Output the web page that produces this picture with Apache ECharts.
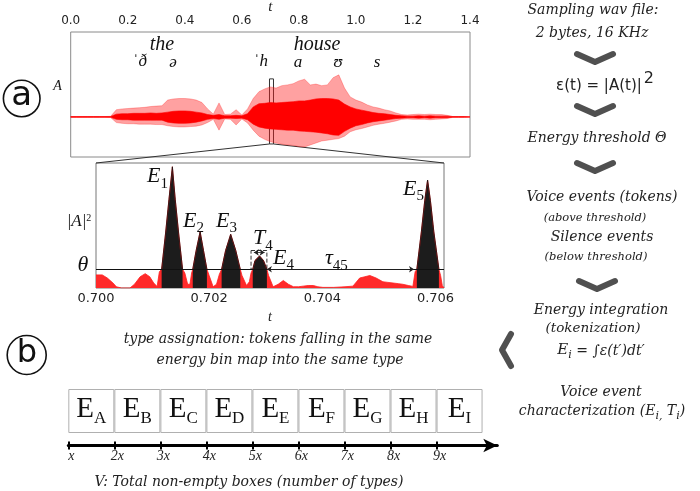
<!DOCTYPE html>
<html><head><meta charset="utf-8">
<script src="https://cdn.jsdelivr.net/npm/echarts@6/dist/echarts.min.js"></script>
<style>html,body{margin:0;padding:0;background:#fff}#c{width:700px;height:491px}</style>
</head><body><div id="c"></div>
<script>
// ---------- data: waveform envelope (top panel) ----------
const waveT = [0.00,0.02,0.04,0.06,0.08,0.10,0.12,0.14,0.16,0.18,0.20,0.22,0.24,0.26,0.28,0.30,0.32,0.34,0.36,0.38,0.40,0.42,0.44,0.46,0.48,0.50,0.52,0.54,0.56,0.58,0.60,0.62,0.64,0.66,0.68,0.70,0.72,0.74,0.76,0.78,0.80,0.82,0.84,0.86,0.88,0.90,0.92,0.94,0.96,0.98,1.00,1.02,1.04,1.06,1.08,1.10,1.12,1.14,1.16,1.18,1.20,1.22,1.24,1.26,1.28,1.30,1.32,1.34,1.36,1.38,1.40];
const lightHi = [0.01,0.01,0.01,0.01,0.01,0.01,0.01,0.015,0.18,0.20,0.21,0.22,0.23,0.24,0.26,0.27,0.28,0.42,0.45,0.46,0.46,0.45,0.42,0.36,0.20,0.07,0.35,0.06,0.07,0.18,0.05,0.20,0.46,0.63,0.70,0.75,0.72,0.78,0.80,0.83,0.90,0.94,0.80,0.82,0.78,0.80,0.98,1.05,0.72,0.50,0.42,0.37,0.30,0.25,0.22,0.18,0.15,0.10,0.06,0.05,0.06,0.07,0.06,0.07,0.06,0.06,0.04,0.01,0.01,0.01,0.01];
const lightLo = [-0.01,-0.01,-0.01,-0.01,-0.01,-0.01,-0.01,-0.015,-0.14,-0.16,-0.17,-0.17,-0.18,-0.18,-0.18,-0.19,-0.19,-0.22,-0.24,-0.25,-0.25,-0.24,-0.23,-0.20,-0.14,-0.06,-0.33,-0.05,-0.06,-0.20,-0.05,-0.15,-0.33,-0.48,-0.56,-0.62,-0.65,-0.68,-0.70,-0.71,-0.74,-0.75,-0.70,-0.65,-0.60,-0.58,-0.56,-0.54,-0.48,-0.37,-0.32,-0.29,-0.25,-0.21,-0.18,-0.16,-0.13,-0.10,-0.06,-0.05,-0.06,-0.06,-0.06,-0.07,-0.06,-0.05,-0.04,-0.01,-0.01,-0.01,-0.01];
const darkHi = [0.01,0.01,0.01,0.01,0.01,0.01,0.01,0.01,0.07,0.08,0.08,0.09,0.09,0.09,0.10,0.09,0.10,0.12,0.14,0.15,0.15,0.14,0.12,0.10,0.06,0.04,0.06,0.03,0.03,0.04,0.03,0.08,0.25,0.33,0.34,0.36,0.35,0.36,0.37,0.38,0.40,0.40,0.42,0.45,0.46,0.46,0.45,0.42,0.32,0.25,0.20,0.17,0.14,0.11,0.09,0.08,0.06,0.04,0.03,0.02,0.02,0.03,0.02,0.03,0.02,0.02,0.02,0.01,0.01,0.01,0.01];
const darkLo = [-0.01,-0.01,-0.01,-0.01,-0.01,-0.01,-0.01,-0.01,-0.06,-0.07,-0.07,-0.08,-0.08,-0.08,-0.08,-0.08,-0.08,-0.13,-0.15,-0.16,-0.16,-0.15,-0.13,-0.10,-0.06,-0.04,-0.06,-0.03,-0.03,-0.04,-0.03,-0.07,-0.18,-0.25,-0.28,-0.30,-0.31,-0.32,-0.33,-0.33,-0.35,-0.36,-0.37,-0.38,-0.40,-0.42,-0.45,-0.46,-0.36,-0.28,-0.22,-0.19,-0.15,-0.12,-0.10,-0.08,-0.06,-0.04,-0.03,-0.02,-0.02,-0.03,-0.02,-0.03,-0.02,-0.02,-0.02,-0.01,-0.01,-0.01,-0.01];
const zoomT = [0.697, 0.711];      // zoom window (time)
const zoomA = [-0.675, 0.95];      // zoom window (amplitude)

// ---------- data: energy |A|^2 (zoomed panel) ----------
const energyT = [0.70000,0.70011,0.70020,0.70030,0.70036,0.70045,0.70060,0.70068,0.70078,0.70087,0.70095,0.70102,0.70108,0.70112,0.70116,0.70123,0.70129,0.70135,0.70140,0.70146,0.70153,0.70157,0.70162,0.70166,0.70169,0.70171,0.70177,0.70184,0.70190,0.70196,0.70200,0.70207,0.70213,0.70218,0.70222,0.70229,0.70238,0.70247,0.70255,0.70258,0.70266,0.70271,0.70274,0.70277,0.70281,0.70289,0.70296,0.70302,0.70305,0.70313,0.70322,0.70331,0.70340,0.70349,0.70358,0.70366,0.70375,0.70384,0.70392,0.70401,0.70420,0.70440,0.70454,0.70466,0.70475,0.70484,0.70495,0.70507,0.70516,0.70525,0.70534,0.70542,0.70552,0.70560,0.70564,0.70567,0.70575,0.70581,0.70586,0.70591,0.70597,0.70606,0.70609,0.70612,0.70615];
const energyV = [0.105,0.105,0.08,0.04,0.01,0.0,0.0,0.03,0.09,0.115,0.09,0.04,0.012,0.13,0.15,0.44,0.71,0.97,0.71,0.44,0.15,0.12,0.03,0.03,0.12,0.15,0.30,0.45,0.30,0.15,0.10,0.01,0.03,0.11,0.15,0.30,0.43,0.30,0.15,0.10,0.02,0.05,0.12,0.15,0.22,0.256,0.22,0.15,0.10,0.01,0.03,0.06,0.03,0.01,0.01,0.015,0.02,0.02,0.01,0.005,0.005,0.01,0.015,0.08,0.09,0.10,0.08,0.05,0.045,0.04,0.035,0.03,0.02,0.013,0.13,0.15,0.45,0.70,0.864,0.70,0.45,0.15,0.10,0.02,0.0];
const threshold = 0.15;
const zoomTicks = [0.700, 0.702, 0.704, 0.706];
const T4span = [0.70274, 0.70302, 0.30];
const tau45 = [0.70302, 0.70562];

// ---------- data: energy bins (panel b) ----------
const bins = ['A','B','C','D','E','F','G','H','I'];
const binEdges = [1,2,3,4,5,6,7,8,9];
const binTicks = ['x','2x','3x','4x','5x','6x','7x','8x','9x'];

const LS = '"Liberation Serif","DejaVu Serif",serif';
const DS = '"DejaVu Serif",serif';
const SANS = '"DejaVu Sans",sans-serif';

const chart = echarts.init(document.getElementById('c'), null, {renderer:'canvas'});

function half(vals, color, lineColor) {
  return {type:'line', xAxisIndex:0, yAxisIndex:0, symbol:'none', silent:true,
    data: waveT.map((t,i)=>[t, vals[i]]), lineStyle:{width:0.6, color:lineColor},
    areaStyle:{color, opacity:1, origin:0}};
}
const waveSeries = [
  half(lightHi, 'rgba(255,30,30,0.42)', 'rgba(255,0,0,0.45)'),
  half(lightLo, 'rgba(255,30,30,0.42)', 'rgba(255,0,0,0.45)'),
  half(darkHi, '#ff0000', '#ff0000'),
  half(darkLo, '#ff0000', '#ff0000')
];
waveSeries[0].markArea = {silent:true, itemStyle:{color:'rgba(0,0,0,0)', borderColor:'#333', borderWidth:1},
  data:[[{xAxis:zoomT[0], yAxis:zoomA[1]},{xAxis:zoomT[1], yAxis:zoomA[0]}]]};

const energyRed = {
  type:'line', xAxisIndex:1, yAxisIndex:1, symbol:'none', silent:true,
  data: energyT.map((t,i)=>[t, energyV[i]]),
  lineStyle:{width:0.8, color:'#ff2020'}, areaStyle:{color:'#ff2a2a', opacity:1},
  markLine:{silent:true, symbol:'none', label:{show:false}, lineStyle:{color:'#111', width:1.2, type:'solid'},
    data:[{yAxis:threshold}]}
};
const energyBlack = {
  type:'line', xAxisIndex:1, yAxisIndex:1, symbol:'none', silent:true, connectNulls:false,
  data: energyT.map((t,i)=>[t, energyV[i] >= threshold ? energyV[i] : null]),
  lineStyle:{width:0.8, color:'#111'}, areaStyle:{color:'#1c1c1c', opacity:1},
  markLine:{silent:true, symbol:['arrow','arrow'], symbolSize:5, label:{show:false},
    lineStyle:{color:'#222', width:0.8, type:'solid'},
    data:[
      [{coord:[tau45[0], threshold]},{coord:[tau45[1], threshold]}],
      [{coord:[T4span[0]+0.00005, 0.285]},{coord:[T4span[1]-0.00004, 0.285]}]
    ]},
  markArea:{silent:true, itemStyle:{color:'rgba(0,0,0,0)', borderColor:'#333', borderWidth:1, borderType:'dashed'},
    data:[[{xAxis:T4span[0], yAxis:T4span[2]},{xAxis:T4span[1], yAxis:threshold}]]}
};

const boxSeries = {
  type:'bar', xAxisIndex:2, yAxisIndex:2, barWidth:46, silent:true,
  data: bins.map((b,i)=>[binEdges[i]+0.5, 1]),
  itemStyle:{color:'#fff', borderColor:'#b0b0b0', borderWidth:1},
  label:{show:true, position:'inside', formatter:p=>'{e|E}{s|'+bins[p.dataIndex]+'}',
    rich:{e:{fontSize:29, fontFamily:LS, color:'#111', verticalAlign:'bottom', padding:[0,0,3,0]},
          s:{fontSize:17, fontFamily:LS, color:'#111', verticalAlign:'bottom'}}}
};

const option = {
  animation:false,
  backgroundColor:'#fff',
  grid:[
    {left:70.7, top:32, width:399.3, height:125, show:true, borderColor:'#8a8a8a', borderWidth:1, backgroundColor:'rgba(0,0,0,0)', outerBoundsMode:'none'},
    {left:96, top:163, width:348, height:125, show:true, borderColor:'#777', borderWidth:1, backgroundColor:'rgba(0,0,0,0)', outerBoundsMode:'none'},
    {left:68.3, top:389, width:429, height:56.5, outerBoundsMode:'none'}
  ],
  xAxis:[
    {gridIndex:0, type:'value', position:'top', min:0, max:1.4, interval:0.2,
     axisLine:{show:false}, axisTick:{show:false}, splitLine:{show:false},
     axisLabel:{formatter:v=>v.toFixed(1), fontSize:12, color:'#222', fontFamily:SANS, margin:5},
     name:'t', nameLocation:'middle', nameGap:16,
     nameTextStyle:{fontFamily:LS, fontStyle:'italic', fontSize:15, color:'#222'}},
    {gridIndex:1, type:'value', min:0.700, max:0.70615, interval:0.002,
     axisLine:{show:false}, axisTick:{show:false}, splitLine:{show:false},
     axisLabel:{formatter:v=>v.toFixed(3), fontSize:13, color:'#222', fontFamily:SANS, margin:4,
       customValues:zoomTicks},
     name:'t', nameLocation:'middle', nameGap:22,
     nameTextStyle:{fontFamily:LS, fontStyle:'italic', fontSize:14, color:'#222'}},
    {gridIndex:2, type:'value', position:'bottom', min:1, max:10.32,
     axisLine:{show:true, onZero:false, symbol:['none','arrow'], symbolSize:[10,14], lineStyle:{color:'#000', width:3}},
     axisTick:{show:true, length:4, customValues:binEdges, lineStyle:{color:'#000', width:2}},
     splitLine:{show:false},
     axisLabel:{customValues:binEdges, formatter:v=>binTicks[v-1], fontSize:14, fontFamily:LS, fontStyle:'italic', color:'#222', margin:4, padding:[0,0,0,6]}},
    {gridIndex:2, type:'value', position:'bottom', min:1, max:10.32,
     axisLine:{show:false, onZero:false}, splitLine:{show:false}, axisLabel:{show:false},
     axisTick:{show:true, inside:true, length:4, customValues:binEdges, lineStyle:{color:'#000', width:2}}}
  ],
  yAxis:[
    {gridIndex:0, type:'value', min:-1, max:2.12, show:false, splitLine:{show:false}},
    {gridIndex:1, type:'value', min:0, max:1, show:false, splitLine:{show:false}},
    {gridIndex:2, type:'value', min:-0.284, max:1, show:false, splitLine:{show:false}}
  ],
  series: waveSeries.concat([energyRed, energyBlack, boxSeries])
};
chart.setOption(option);

// ---------- annotations ----------
function T(text, x, y, size, o) {
  o = o || {};
  return {type:'text', x, y, silent:true, z:100, style:Object.assign({
    text, fontSize:size, fontFamily:o.family||DS, fontStyle:o.fs||'italic',
    fill:o.fill||'#222', align:o.align||'center', verticalAlign:o.va||'middle'}, o.extra||{})};
}
function sub(main, s, x, y, o) {
  o = o || {};
  const ms = o.ms || 22, ss = o.ss || 15;
  return {type:'text', x, y, silent:true, z:100, style:{
    text:'{e|'+main+'}{s|'+s+'}', align:'left', verticalAlign:'middle', fill:'#111',
    rich:{e:{fontSize:ms, fontFamily:LS, fontStyle:'italic', fill:'#111', verticalAlign:'bottom', padding:[0,0,4,0]},
          s:{fontSize:ss, fontFamily:LS, fill:'#111', verticalAlign:'bottom'}}}};
}
function chev(cx, cy) {
  return {type:'polyline', silent:true, shape:{points:[[cx-18,cy-4],[cx,cy+4],[cx+18,cy-4]]},
    style:{stroke:'#505050', lineWidth:6, fill:null, lineCap:'round', lineJoin:'round'}};
}

const pA = chart.convertToPixel({xAxisIndex:0, yAxisIndex:0}, [zoomT[0], zoomA[0]]);
const pB = chart.convertToPixel({xAxisIndex:0, yAxisIndex:0}, [zoomT[1], zoomA[0]]);
const qA = chart.convertToPixel({xAxisIndex:1, yAxisIndex:1}, [0.700, 1]);
const qB = chart.convertToPixel({xAxisIndex:1, yAxisIndex:1}, [0.70615, 1]);

const graphics = [
  {type:'line', silent:true, shape:{x1:pA[0], y1:pA[1], x2:qA[0], y2:qA[1]}, style:{stroke:'#333', lineWidth:1}},
  {type:'line', silent:true, shape:{x1:pB[0], y1:pB[1], x2:qB[0], y2:qB[1]}, style:{stroke:'#333', lineWidth:1}},
  {type:'circle', silent:true, shape:{cx:21.7, cy:98.5, r:18.3}, style:{fill:null, stroke:'#111', lineWidth:1.6}},
  T('a', 21.7, 96, 34, {family:SANS, fs:'normal', fill:'#111'}),
  {type:'circle', silent:true, shape:{cx:26.7, cy:355, r:19.5}, style:{fill:null, stroke:'#111', lineWidth:1.6}},
  T('b', 27, 354, 32, {family:SANS, fs:'normal', fill:'#111'}),
  T('the', 162, 45, 20, {family:LS, fill:'#111'}),
  T('house', 317, 45, 20, {family:LS, fill:'#111'}),
  T('ˈð', 140, 62, 17, {family:LS, fill:'#111'}),
  T('ə', 173, 63, 17, {family:LS, fill:'#111'}),
  T('ˈh', 261, 62, 17, {family:LS, fill:'#111'}),
  T('a', 298, 63, 17, {family:LS, fill:'#111'}),
  T('ʊ', 338, 63, 17, {family:LS, fill:'#111'}),
  T('s', 377, 63, 17, {family:LS, fill:'#111'}),
  T('A', 57.5, 86, 14, {family:LS, fill:'#111'}),
  {type:'text', x:79, y:222, silent:true, style:{text:'{m||A|}{p|2}', align:'center', verticalAlign:'middle',
    rich:{m:{fontSize:17, fontFamily:LS, fontStyle:'italic', fill:'#111', verticalAlign:'top'},
          p:{fontSize:10, fontFamily:LS, fill:'#111', verticalAlign:'top'}}}},
  T('θ', 83, 265, 22, {family:LS, fill:'#111'}),
  sub('E','1',147,178.5),
  sub('E','2',183,223),
  sub('E','3',216,223),
  sub('T','4',253,240.5),
  sub('E','4',273,260),
  sub('τ','45',325,260.4),
  sub('E','5',403,191),
  T('Sampling wav file:', 593, 10, 14),
  T('2 bytes, 16 KHz', 592, 33, 14),
  chev(595, 58),
  {type:'text', x:605, y:82, silent:true, style:{text:'{m|ε(t) = |A(t)|}{s|2}', align:'center', verticalAlign:'middle',
    rich:{m:{fontSize:15, fontFamily:SANS, fill:'#222', verticalAlign:'bottom'},
          s:{fontSize:16, fontFamily:SANS, fill:'#222', verticalAlign:'bottom', padding:[0,0,7,2]}}}},
  chev(595, 110),
  T('Energy threshold Θ', 597, 138, 14),
  chev(595, 167),
  T('Voice events (tokens)', 602, 197, 14),
  T('(above threshold)', 595, 218, 11.5),
  T('Silence events', 602, 237, 14),
  T('(below threshold)', 596, 257, 11.5),
  chev(597, 285),
  T('Energy integration', 601, 310, 14),
  T('(tokenization)', 593, 328, 13.5),
  {type:'text', x:601, y:352, silent:true, style:{text:'{e|E}{s|i}{m| = ∫ε(t′)dt′}', align:'center', verticalAlign:'middle',
    rich:{e:{fontSize:15, fontFamily:DS, fontStyle:'italic', fill:'#222', verticalAlign:'bottom', padding:[0,0,3,0]},
          s:{fontSize:11, fontFamily:DS, fontStyle:'italic', fill:'#222', verticalAlign:'bottom'},
          m:{fontSize:14, fontFamily:DS, fontStyle:'italic', fill:'#222', verticalAlign:'bottom', padding:[0,0,3,0]}}}},
  {type:'polyline', silent:true, shape:{points:[[511,334],[502,350],[511,366]]},
    style:{stroke:'#505050', lineWidth:6, fill:null, lineCap:'round', lineJoin:'round'}},
  T('Voice event', 601, 392, 14),
  {type:'text', x:602, y:413, silent:true, style:{text:'{m|characterization (E}{s|i,}{m| T}{s|i}{m|)}', align:'center', verticalAlign:'middle',
    rich:{m:{fontSize:14, fontFamily:DS, fontStyle:'italic', fill:'#222', verticalAlign:'bottom', padding:[0,0,3,0]},
          s:{fontSize:11, fontFamily:DS, fontStyle:'italic', fill:'#222', verticalAlign:'bottom'}}}},
  T('type assignation: tokens falling in the same', 278, 339, 14),
  T('energy bin map into the same type', 280, 360, 14),
  T('V: Total non-empty boxes (number of types)', 249, 482, 14)
];
chart.setOption({graphic:graphics});
</script>
</body></html>
